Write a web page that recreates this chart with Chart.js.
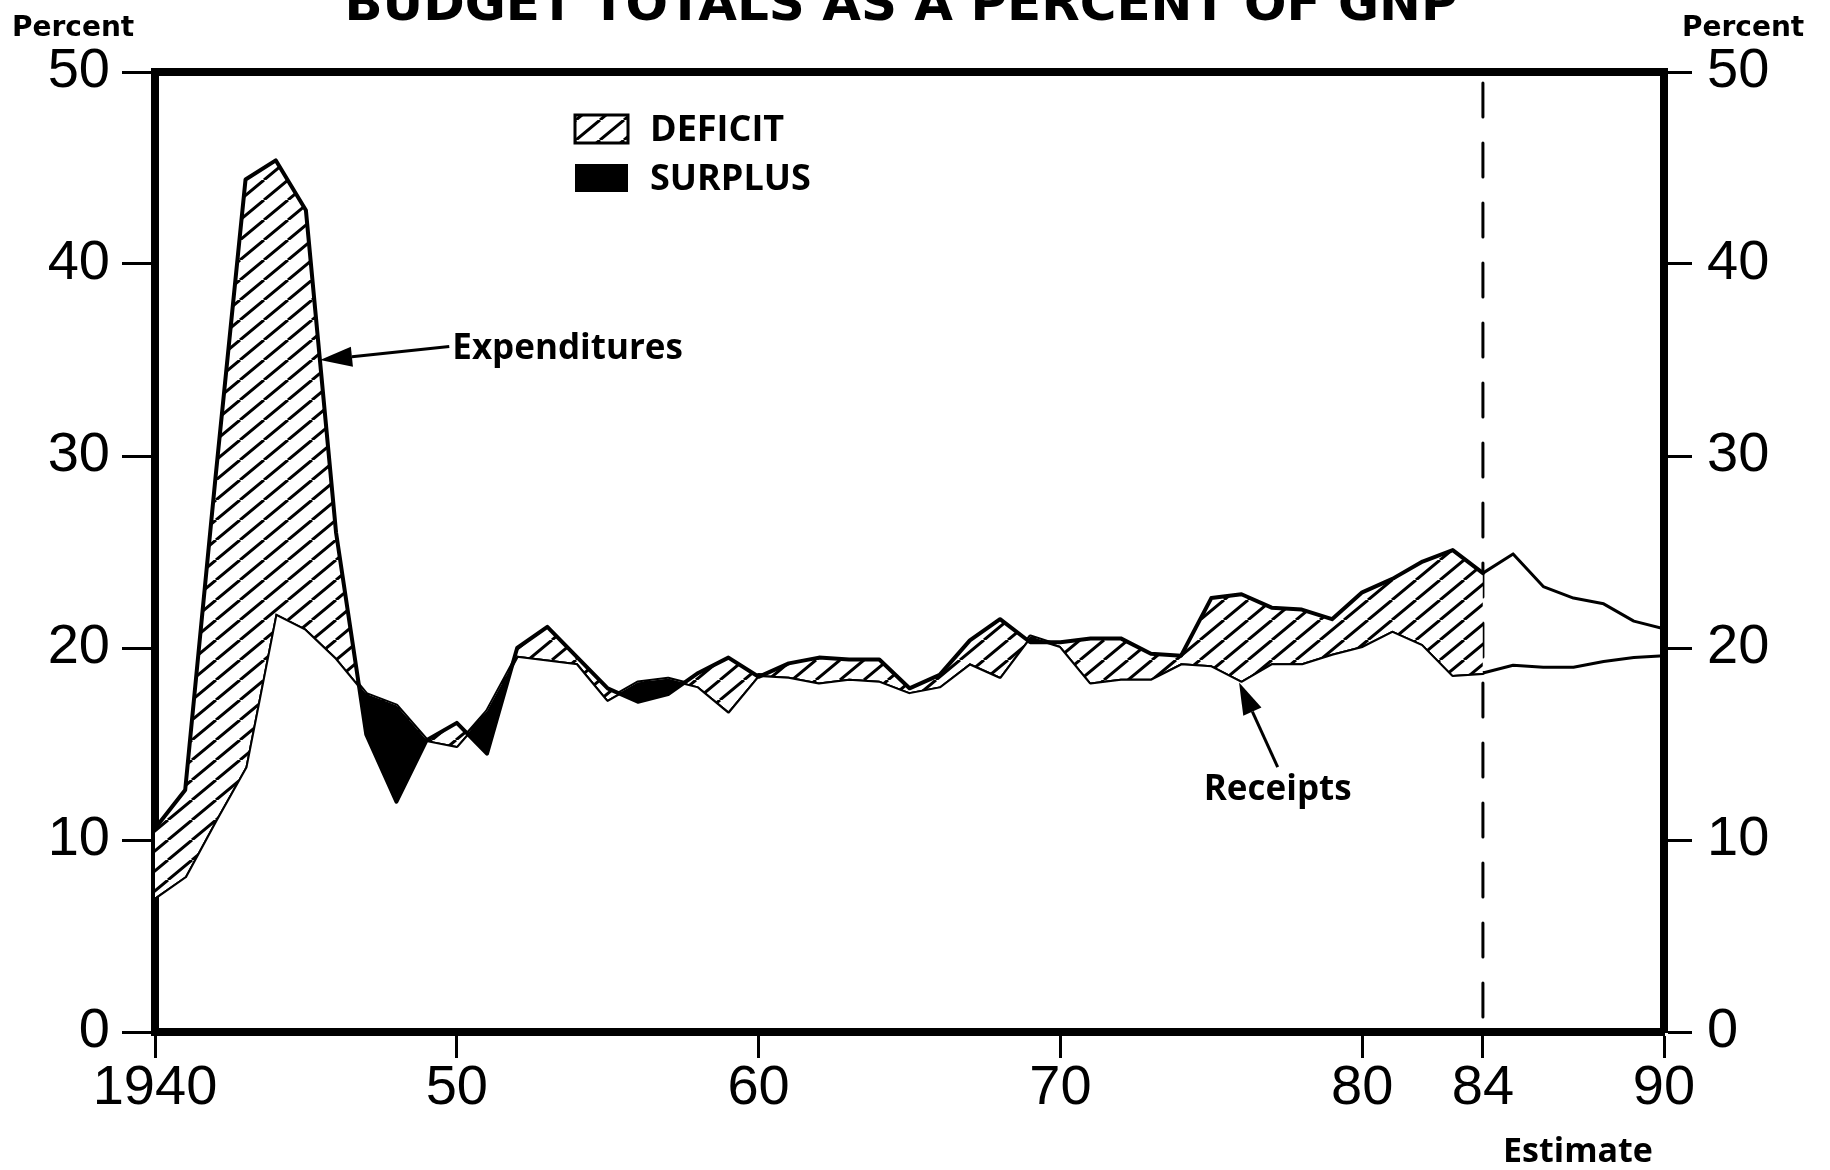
<!DOCTYPE html>
<html>
<head>
<meta charset="utf-8">
<script src="https://cdn.jsdelivr.net/npm/chart.js@4.4.0/dist/chart.umd.min.js"></script>
<style>
  html, body { margin: 0; padding: 0; background: #fff; }
  #wrap { width: 1830px; height: 1170px; position: relative; }
</style>
</head>
<body>
<div id="wrap"><canvas id="budgetchart"></canvas></div>
<script>
// actual fiscal years
const years = [1940, 1941, 1942, 1943, 1944, 1945, 1946, 1947, 1948, 1949,
               1950, 1951, 1952, 1953, 1954, 1955, 1956, 1957, 1958, 1959,
               1960, 1961, 1962, 1963, 1964, 1965, 1966, 1967, 1968, 1969,
               1970, 1971, 1972, 1973, 1974, 1975, 1976, 1977, 1978, 1979,
               1980, 1981, 1982, 1983, 1984];
const expenditures = [10.6, 12.6, 28.8, 44.4, 45.4, 42.8, 26.0, 15.5, 12.0, 15.2,
                      16.1, 14.5, 20.0, 21.1, 19.5, 17.9, 17.2, 17.6, 18.7, 19.5,
                      18.5, 19.2, 19.5, 19.4, 19.4, 17.9, 18.6, 20.4, 21.5, 20.3,
                      20.3, 20.5, 20.5, 19.7, 19.6, 22.6, 22.8, 22.1, 22.0, 21.5,
                      22.9, 23.6, 24.5, 25.1, 23.9];
const receipts = [7.0, 8.1, 11.0, 13.8, 21.8, 21.0, 19.5, 17.6, 17.0, 15.2,
                  14.9, 16.7, 19.6, 19.4, 19.2, 17.3, 18.2, 18.4, 18.0, 16.7,
                  18.6, 18.5, 18.2, 18.4, 18.3, 17.7, 18.0, 19.2, 18.5, 20.6,
                  20.1, 18.2, 18.4, 18.4, 19.2, 19.1, 18.3, 19.2, 19.2, 19.7,
                  20.1, 20.9, 20.2, 18.6, 18.7];

// estimates
const estYears = [1984, 1985, 1986, 1987, 1988, 1989, 1990];
const estExpenditures = [23.9, 24.9, 23.2, 22.6, 22.3, 21.4, 21.0];
const estReceipts = [18.7, 19.1, 19.0, 19.0, 19.3, 19.5, 19.6];

const estimateStart = 1984;
const xTicks = [1940, 1950, 1960, 1970, 1980, 1984, 1990];
const xTickLabels = ['1940', '50', '60', '70', '80', '84', '90'];
const yTicks = [0, 10, 20, 30, 40, 50];

const black = '#000';
const tickFont = { family: "'Liberation Sans Narrow', 'Liberation Sans', sans-serif", size: 56 };
const textFont = "'Open Sans', 'Liberation Sans', sans-serif";

function makeHatch() {
    const c = document.createElement('canvas');
    c.width = 24; c.height = 20;
    const g = c.getContext('2d');
    g.fillStyle = '#fff';
    g.fillRect(0, 0, 24, 20);
    g.strokeStyle = black;
    g.lineWidth = 3;
    g.beginPath();
    [-24, 0, 24].forEach(o => { g.moveTo(o, 20); g.lineTo(o + 24, 0); });
    g.stroke();
    return g.createPattern(c, 'repeat');
}
const hatch = makeHatch();

function pts(xs, ys) {
    return xs.map((x, i) => ({ x: x, y: ys[i] }));
}

function arrow(ctx, x1, y1, x2, y2) {
    const a = Math.atan2(y2 - y1, x2 - x1);
    const len = 32, half = 10;
    const bx = x2 - len * Math.cos(a), by = y2 - len * Math.sin(a);
    ctx.beginPath();
    ctx.moveTo(x1, y1);
    ctx.lineTo(bx, by);
    ctx.lineWidth = 3;
    ctx.stroke();
    ctx.beginPath();
    ctx.moveTo(x2, y2);
    ctx.lineTo(bx + half * Math.sin(a), by - half * Math.cos(a));
    ctx.lineTo(bx - half * Math.sin(a), by + half * Math.cos(a));
    ctx.closePath();
    ctx.fill();
}

// titles, labels, legend and arrows
const decorations = {
    id: 'decorations',
    afterDraw(chart) {
        const ctx = chart.ctx;
        const xs = chart.scales.x, ys = chart.scales.y;
        const px = v => xs.getPixelForValue(v), py = v => ys.getPixelForValue(v);
        ctx.save();
        ctx.fillStyle = black;
        ctx.strokeStyle = black;

        ctx.font = "bold 50px 'DejaVu Sans', sans-serif";
        ctx.textAlign = 'center';
        ctx.textBaseline = 'alphabetic';
        ctx.fillText('BUDGET TOTALS AS A PERCENT OF GNP', 901, 20);

        ctx.font = "bold 28px 'DejaVu Sans', sans-serif";
        ctx.textAlign = 'left';
        ctx.fillText('Percent', 12, 36);
        ctx.fillText('Percent', 1682, 36);

        ctx.font = 'bold 34px ' + textFont;
        ctx.textAlign = 'center';
        ctx.textBaseline = 'middle';
        ctx.fillText('Estimate', 1578, 1152);

        // legend
        const lx = 575, lw = 53, lh = 28;
        ctx.fillStyle = hatch;
        ctx.fillRect(lx, 115, lw, lh);
        ctx.lineWidth = 3;
        ctx.strokeRect(lx, 115, lw, lh);
        ctx.fillStyle = black;
        ctx.fillRect(lx, 164, lw, lh);
        ctx.font = 'bold 36px ' + textFont;
        ctx.textAlign = 'left';
        ctx.fillText('DEFICIT', 650, 131);
        ctx.fillText('SURPLUS', 650, 180);

        // series labels
        ctx.font = 'bold 35px ' + textFont;
        ctx.fillText('Expenditures', px(1949.85), py(35.55));
        arrow(ctx, px(1949.75), py(35.7), px(1945.47), py(35.0));
        ctx.textAlign = 'center';
        ctx.fillText('Receipts', px(1977.2), py(12.6));
        arrow(ctx, px(1977.2), py(13.8), px(1975.92), py(18.2));
        ctx.restore();
    }
};

const chart = new Chart(document.getElementById('budgetchart').getContext('2d'), {
    type: 'line',
    data: {
        datasets: [
            {
                label: 'Expenditures',
                data: pts(years, expenditures),
                borderColor: black,
                borderWidth: 4,
                fill: { target: 1, above: hatch, below: black }
            },
            {
                label: 'Receipts',
                data: pts(years, receipts),
                borderColor: black,
                borderWidth: 4,
                fill: false
            },
            {
                label: 'Expenditures (estimate)',
                data: pts(estYears, estExpenditures),
                borderColor: black,
                borderWidth: 3,
                fill: false
            },
            {
                label: 'Receipts (estimate)',
                data: pts(estYears, estReceipts),
                borderColor: black,
                borderWidth: 3,
                fill: false
            },
            {
                label: 'Estimate start',
                data: [{ x: estimateStart, y: 50 }, { x: estimateStart, y: 0 }],
                borderColor: black,
                borderWidth: 3,
                borderDash: [34, 26],
                borderDashOffset: 49,
                fill: false
            }
        ]
    },
    options: {
        responsive: true,
        maintainAspectRatio: false,
        animation: false,
        devicePixelRatio: 1,
        events: [],
        layout: { padding: 0 },
        elements: {
            point: { radius: 0 },
            line: { tension: 0, borderJoinStyle: 'round', borderCapStyle: 'round' }
        },
        plugins: {
            legend: { display: false },
            tooltip: { enabled: false },
            title: { display: false }
        },
        scales: {
            x: {
                type: 'linear',
                position: 'bottom',
                min: 1940,
                max: 1990,
                afterBuildTicks: s => { s.ticks = xTicks.map(v => ({ value: v })); },
                afterFit: s => { s.height = 138; },
                ticks: {
                    callback: v => xTickLabels[xTicks.indexOf(v)],
                    color: black,
                    font: tickFont,
                    padding: -3,
                    autoSkip: false,
                    maxRotation: 0
                },
                grid: { drawOnChartArea: false, tickLength: 26, tickWidth: 3, tickColor: black },
                border: { width: 8, color: black }
            },
            xt: {
                type: 'linear',
                position: 'top',
                min: 1940,
                max: 1990,
                afterFit: s => { s.height = 72; },
                ticks: { display: false },
                grid: { display: false },
                border: { width: 8, color: black }
            },
            y: {
                position: 'left',
                min: 0,
                max: 50,
                afterBuildTicks: s => { s.ticks = yTicks.map(v => ({ value: v })); },
                afterFit: s => { s.width = 155; },
                ticks: { color: black, font: tickFont, padding: 12 },
                grid: { drawOnChartArea: false, tickLength: 33, tickWidth: 3, tickColor: black },
                border: { width: 8, color: black }
            },
            y2: {
                position: 'right',
                min: 0,
                max: 50,
                afterBuildTicks: s => { s.ticks = yTicks.map(v => ({ value: v })); },
                afterFit: s => { s.width = 166; },
                ticks: { color: black, font: tickFont, padding: 15 },
                grid: { drawOnChartArea: false, tickLength: 28, tickWidth: 3, tickColor: black },
                border: { width: 8, color: black }
            }
        }
    },
    plugins: [decorations]
});
</script>
</body>
</html>
